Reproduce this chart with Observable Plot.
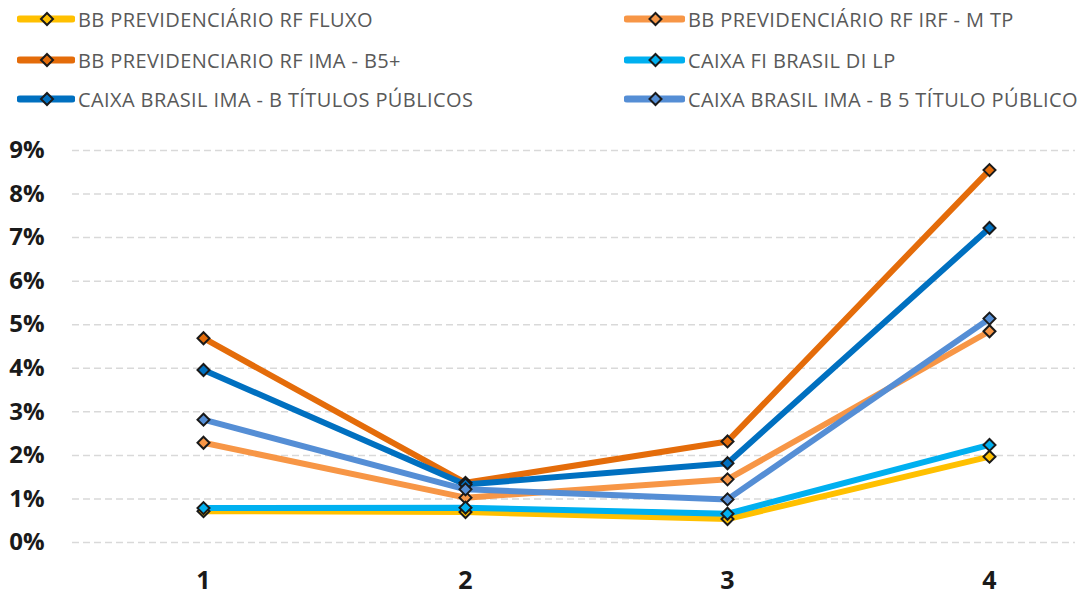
<!DOCTYPE html>
<html><head><meta charset="utf-8">
<script src="https://cdn.jsdelivr.net/npm/d3@7"></script>
<script src="https://cdn.jsdelivr.net/npm/@observablehq/plot@0.6"></script>
<style>
body{margin:0;background:#fff;font-family:"Open Sans",sans-serif;}
#legend{position:relative;height:120px;width:1085px;}
.item{position:absolute;display:flex;align-items:center;height:26px;font-size:20px;letter-spacing:0.4px;color:#595959;white-space:nowrap;}
.item svg{margin-right:3px;}
#chart svg{display:block;}
</style></head><body>
<div id="legend"></div>
<div id="chart"></div>
<script>
const periods = [1, 2, 3, 4];
const seriesNames = [
  "BB PREVIDENCIÁRIO RF FLUXO",
  "BB PREVIDENCIÁRIO RF IRF - M TP",
  "BB PREVIDENCIARIO RF IMA - B5+",
  "CAIXA FI BRASIL DI LP",
  "CAIXA BRASIL IMA - B TÍTULOS PÚBLICOS",
  "CAIXA BRASIL IMA - B 5 TÍTULO PÚBLICO"
];
const seriesColors = ["#FFC000", "#F79646", "#E46C0A", "#00B0F0", "#0070C0", "#558ED5"];
const bbFluxo   = [0.72, 0.70, 0.54, 1.97];
const bbIrfM    = [2.29, 1.03, 1.45, 4.85];
const bbImaB5p  = [4.69, 1.37, 2.32, 8.55];
const caixaDiLp = [0.79, 0.80, 0.66, 2.24];
const caixaImaB = [3.96, 1.33, 1.82, 7.22];
const caixaImaB5 = [2.82, 1.22, 0.99, 5.14];
const yTicks = [0, 1, 2, 3, 4, 5, 6, 7, 8, 9];

const allValues = [bbFluxo, bbIrfM, bbImaB5p, caixaDiLp, caixaImaB, caixaImaB5];
const data = seriesNames.flatMap((name, i) => periods.map((p, j) => ({name, period: p, value: allValues[i][j]})));

// Legend
const legendPos = [[17, 19], [624, 19], [17, 60], [624, 60], [17, 99], [624, 99]];
const legend = document.getElementById("legend");
seriesNames.forEach((name, i) => {
  const [lx, ly] = legendPos[i];
  const w = i % 2 === 0 ? 58 : 61;
  const div = document.createElement("div");
  div.className = "item";
  div.style.left = lx + "px";
  div.style.top = (ly - 13) + "px";
  const cx = w / 2 + 1;
  div.innerHTML = `<svg width="${w}" height="20"><line x1="3" x2="${w - 3}" y1="10" y2="10" stroke="${seriesColors[i]}" stroke-width="7" stroke-linecap="round"/><path d="M${cx},4 L${cx + 6},10 L${cx},16 L${cx - 6},10 Z" fill="${seriesColors[i]}" stroke="#1a1a1a" stroke-width="2"/></svg><span>${name}</span>`;
  legend.appendChild(div);
});

const chart = Plot.plot({
  width: 1085,
  height: 476,
  marginLeft: 72,
  marginRight: 10,
  marginTop: 30,
  marginBottom: 54,
  style: {fontFamily: "Open Sans, sans-serif", fontSize: "24px", fontWeight: "bold", color: "#1a1a1a", background: "#fff"},
  x: {type: "point", domain: periods, range: [203, 989], padding: 0},
  y: {domain: [0, 9]},
  color: {domain: seriesNames, range: seriesColors},
  marks: [
    Plot.ruleY(yTicks, {stroke: "#d9d9d9", strokeWidth: 1.5, strokeDasharray: "7,4"}),
    Plot.axisY(yTicks, {tickSize: 0, tickPadding: 28, tickFormat: d => d + "%", label: null}),
    Plot.axisX(periods, {tickSize: 0, tickPadding: 29, label: null, fontSize: 25}),
    ...seriesNames.map(n => Plot.line(data.filter(d => d.name === n), {x: "period", y: "value", stroke: "name", strokeWidth: 6, strokeLinejoin: "round"})),
    ...seriesNames.map(n => Plot.dot(data.filter(d => d.name === n), {x: "period", y: "value", fill: "name", symbol: "diamond2", r: 5.4, stroke: "#1a1a1a", strokeWidth: 2}))
  ]
});
document.getElementById("chart").appendChild(chart);
</script>
</body></html>
